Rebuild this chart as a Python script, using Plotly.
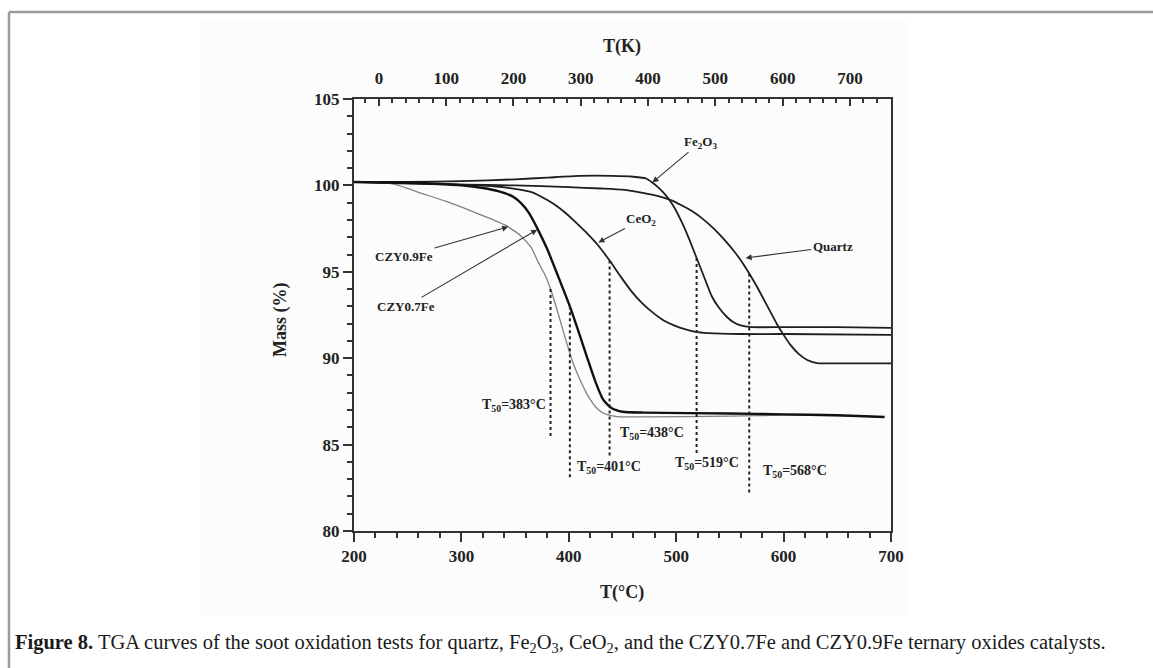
import numpy as np
import plotly.graph_objects as go

# ---------------- data ----------------
fe2o3_T = [200, 250, 300, 350, 380, 410, 440, 460, 472, 478, 483, 490, 497, 505, 512, 519, 526, 533, 540, 547, 553, 560, 570, 600, 650, 700]
fe2o3_M = [100.2, 100.2, 100.25, 100.35, 100.45, 100.55, 100.55, 100.5, 100.4, 100.15, 99.9, 99.45, 98.85, 97.9, 96.9, 95.8, 94.7, 93.6, 92.9, 92.4, 92.1, 91.9, 91.8, 91.8, 91.8, 91.75]

quartz_T = [200, 250, 300, 350, 400, 430, 450, 470, 485, 495, 505, 515, 525, 535, 545, 555, 562, 568, 576, 582, 588, 594, 600, 606, 614, 622, 631, 650, 700]
quartz_M = [100.2, 100.1, 100.05, 100.0, 99.9, 99.82, 99.75, 99.55, 99.35, 99.15, 98.85, 98.5, 98.05, 97.5, 96.85, 96.1, 95.5, 94.9, 94.05, 93.35, 92.65, 91.95, 91.35, 90.8, 90.25, 89.9, 89.72, 89.7, 89.7]

ceo2_T = [200, 250, 300, 330, 350, 366, 380, 390, 397, 405, 415, 427, 438, 448, 458, 468, 478, 488, 498, 508, 518, 530, 560, 600, 700]
ceo2_M = [100.2, 100.15, 100.05, 99.95, 99.8, 99.6, 99.15, 98.75, 98.4, 97.95, 97.35, 96.55, 95.65, 94.75, 93.9, 93.2, 92.65, 92.2, 91.9, 91.68, 91.52, 91.45, 91.4, 91.4, 91.35]

czy07_T = [200, 250, 300, 320, 335, 348, 356, 363, 370, 380, 390, 401, 409, 417, 425, 432, 440, 450, 470, 550, 600, 650, 694]
czy07_M = [100.2, 100.15, 100.0, 99.85, 99.65, 99.35, 98.95, 98.4, 97.6, 96.3, 94.75, 93.0, 91.55, 90.05, 88.6, 87.6, 87.1, 86.9, 86.85, 86.8, 86.75, 86.7, 86.6]

czy09_T = [200, 220, 240, 260, 286, 310, 330, 341, 355, 365, 372, 378, 383, 390, 397, 403, 409, 415, 420, 427, 435, 445, 470, 550, 600, 650, 694]
czy09_M = [100.2, 100.2, 100.03, 99.6, 99.07, 98.5, 98.0, 97.7, 97.1, 96.4, 95.5, 94.8, 94.0, 92.6, 91.1, 89.9, 88.95, 88.15, 87.6, 87.05, 86.75, 86.62, 86.6, 86.65, 86.7, 86.68, 86.6]

t50_values = [383, 401, 438, 519, 568]
t50_labels = ["T<sub>50</sub>=383°C", "T<sub>50</sub>=401°C", "T<sub>50</sub>=438°C", "T<sub>50</sub>=519°C", "T<sub>50</sub>=568°C"]
t50_curves = ["czy09", "czy07", "ceo2", "fe2o3", "quartz"]
t50_bottom = [85.5, 83.1, 84.2, 84.5, 82.2]

x_ticks_C = [200, 300, 400, 500, 600, 700]
x_ticks_K = [0, 100, 200, 300, 400, 500, 600, 700]
y_ticks = [80, 85, 90, 95, 100, 105]

curves = {
    "fe2o3": (fe2o3_T, fe2o3_M),
    "quartz": (quartz_T, quartz_M),
    "ceo2": (ceo2_T, ceo2_M),
    "czy07": (czy07_T, czy07_M),
    "czy09": (czy09_T, czy09_M),
}

# ---------------- layout geometry ----------------
W, H = 1153, 668
L, R, T, B = 354, 891, 99, 531
PW, PH = R - L, B - T

def px(xp):
    return (xp - L) / PW

def py(yp):
    return (B - yp) / PH

SERIF = "Liberation Serif"
INK = "#222222"

fig = go.Figure()

styles = {
    "fe2o3": dict(color="#1e1e1e", width=1.8),
    "quartz": dict(color="#1e1e1e", width=1.8),
    "ceo2": dict(color="#1e1e1e", width=1.8),
    "czy07": dict(color="#111111", width=2.4),
    "czy09": dict(color="#808080", width=1.3),
}
for key in ["quartz", "fe2o3", "ceo2", "czy09", "czy07"]:
    xs, ys = curves[key]
    fig.add_trace(go.Scatter(x=xs, y=ys, mode="lines", line=dict(shape="spline", smoothing=0.5, **styles[key]),
                             showlegend=False, hoverinfo="skip"))

# T50 dotted drop lines
for t, ck, bot in zip(t50_values, t50_curves, t50_bottom):
    xs, ys = curves[ck]
    top = float(np.interp(t, xs, ys))
    fig.add_trace(go.Scatter(x=[t, t], y=[top, bot], mode="lines",
                             line=dict(color="#222222", width=2, dash="3px,3px"),
                             showlegend=False, hoverinfo="skip"))

# dummy trace for top axis
fig.add_trace(go.Scatter(x=[0], y=[None], xaxis="x2", yaxis="y", mode="lines", showlegend=False, hoverinfo="skip"))

tickfont = dict(family=SERIF, size=17, color=INK, weight="bold")
fig.update_layout(
    width=W, height=H,
    margin=dict(l=L, r=W - R, t=T, b=H - B),
    paper_bgcolor="white",
    plot_bgcolor="rgba(0,0,0,0)",
    xaxis=dict(range=[200, 700], tickvals=x_ticks_C, ticks="outside", ticklen=9, tickwidth=2,
               tickcolor="#333", showline=True, linewidth=2, linecolor="#333", showgrid=False, zeroline=False,
               minor=dict(dtick=20, tick0=200, ticks="outside", ticklen=5, tickwidth=1.5, tickcolor="#333"),
               tickfont=tickfont),
    xaxis2=dict(range=[-37, 761], tickvals=x_ticks_K, overlaying="x", side="top", anchor="y",
                ticks="inside", ticklen=7, tickwidth=2, tickcolor="#333", showline=True, linewidth=2,
                linecolor="#333", showgrid=False, zeroline=False, ticklabelstandoff=6,
                minor=dict(dtick=20, tick0=0, ticks="inside", ticklen=4, tickwidth=1.5, tickcolor="#333"),
                tickfont=tickfont),
    yaxis=dict(range=[80, 105], tickvals=y_ticks, ticks="outside", ticklen=9, tickwidth=2, tickcolor="#333",
               showline=True, linewidth=2, linecolor="#333", mirror=True, showgrid=False, zeroline=False,
               minor=dict(dtick=1, tick0=80, ticks="outside", ticklen=5, tickwidth=1.5, tickcolor="#333"),
               tickfont=tickfont),
)

# background of the pasted chart region and the outer frame
fig.add_shape(type="rect", xref="paper", yref="paper", x0=px(200), x1=px(907), y0=py(615), y1=py(22),
              fillcolor="#fcfcfc", line=dict(width=0), layer="below")
fig.add_shape(type="line", xref="paper", yref="paper", x0=px(9), x1=px(9), y0=py(12), y1=py(668),
              line=dict(color="#9a9a9a", width=2.5))
fig.add_shape(type="line", xref="paper", yref="paper", x0=px(9), x1=px(1153), y0=py(12), y1=py(12),
              line=dict(color="#9a9a9a", width=2.5))

ann = []
titlefont = dict(family=SERIF, size=18, color=INK, weight="bold")
ann.append(dict(text="T(K)", xref="paper", yref="paper", x=px(622), y=py(47), xanchor="center", yanchor="middle",
                showarrow=False, font=titlefont))
ann.append(dict(text="T(°C)", xref="paper", yref="paper", x=px(622), y=py(592), xanchor="center", yanchor="middle",
                showarrow=False, font=titlefont))
ann.append(dict(text="Mass (%)", xref="paper", yref="paper", x=px(280), y=py(320), xanchor="center",
                yanchor="middle", showarrow=False, textangle=-90, font=titlefont))

# series labels with arrows: (text, tip x, tip y, text x, text y)
labfont = dict(family=SERIF, size=13, color=INK, weight="bold")
series_labels = [
    ("CZY0.9Fe", 343.6, 97.6, 246.6, 95.87),
    ("CZY0.7Fe", 370.6, 97.44, 248.5, 93.0),
    ("CeO<sub>2</sub>", 427.5, 96.7, 467.6, 98.0),
    ("Fe<sub>2</sub>O<sub>3</sub>", 477.9, 100.17, 522.6, 102.5),
    ("Quartz", 564.6, 95.8, 645.7, 96.45),
]
for text, tx, ty, lx, ly in series_labels:
    ann.append(dict(text=text, x=tx, y=ty, ax=lx, ay=ly, xref="x", yref="y", axref="x", ayref="y",
                    showarrow=True, arrowhead=2, arrowsize=1.1, arrowwidth=1.1, arrowcolor="#333",
                    font=labfont, standoff=0))

# T50 labels: (x, y, anchor)
t50_pos = [(380.9, 87.27, "right"), (406.0, 83.66, "left"), (446.0, 85.64, "left"),
           (497.4, 83.9, "left"), (578.6, 83.43, "left")]
t50font = dict(family=SERIF, size=14, color=INK, weight="bold")
for text, (x, y, anc) in zip(t50_labels, t50_pos):
    ann.append(dict(text=text, x=x, y=y, xref="x", yref="y", xanchor=anc, yanchor="middle",
                    showarrow=False, font=t50font))

caption = ("<b>Figure 8.</b> TGA curves of the soot oxidation tests for quartz, Fe<sub>2</sub>O<sub>3</sub>, "
           "CeO<sub>2</sub>, and the CZY0.7Fe and CZY0.9Fe ternary oxides catalysts.")
ann.append(dict(text=caption, xref="paper", yref="paper", x=px(13), y=py(643), xanchor="left", yanchor="middle",
                showarrow=False, font=dict(family=SERIF, size=20.5, color="#1a1a1a")))

fig.update_layout(annotations=ann)
fig.write_html("out.html")
